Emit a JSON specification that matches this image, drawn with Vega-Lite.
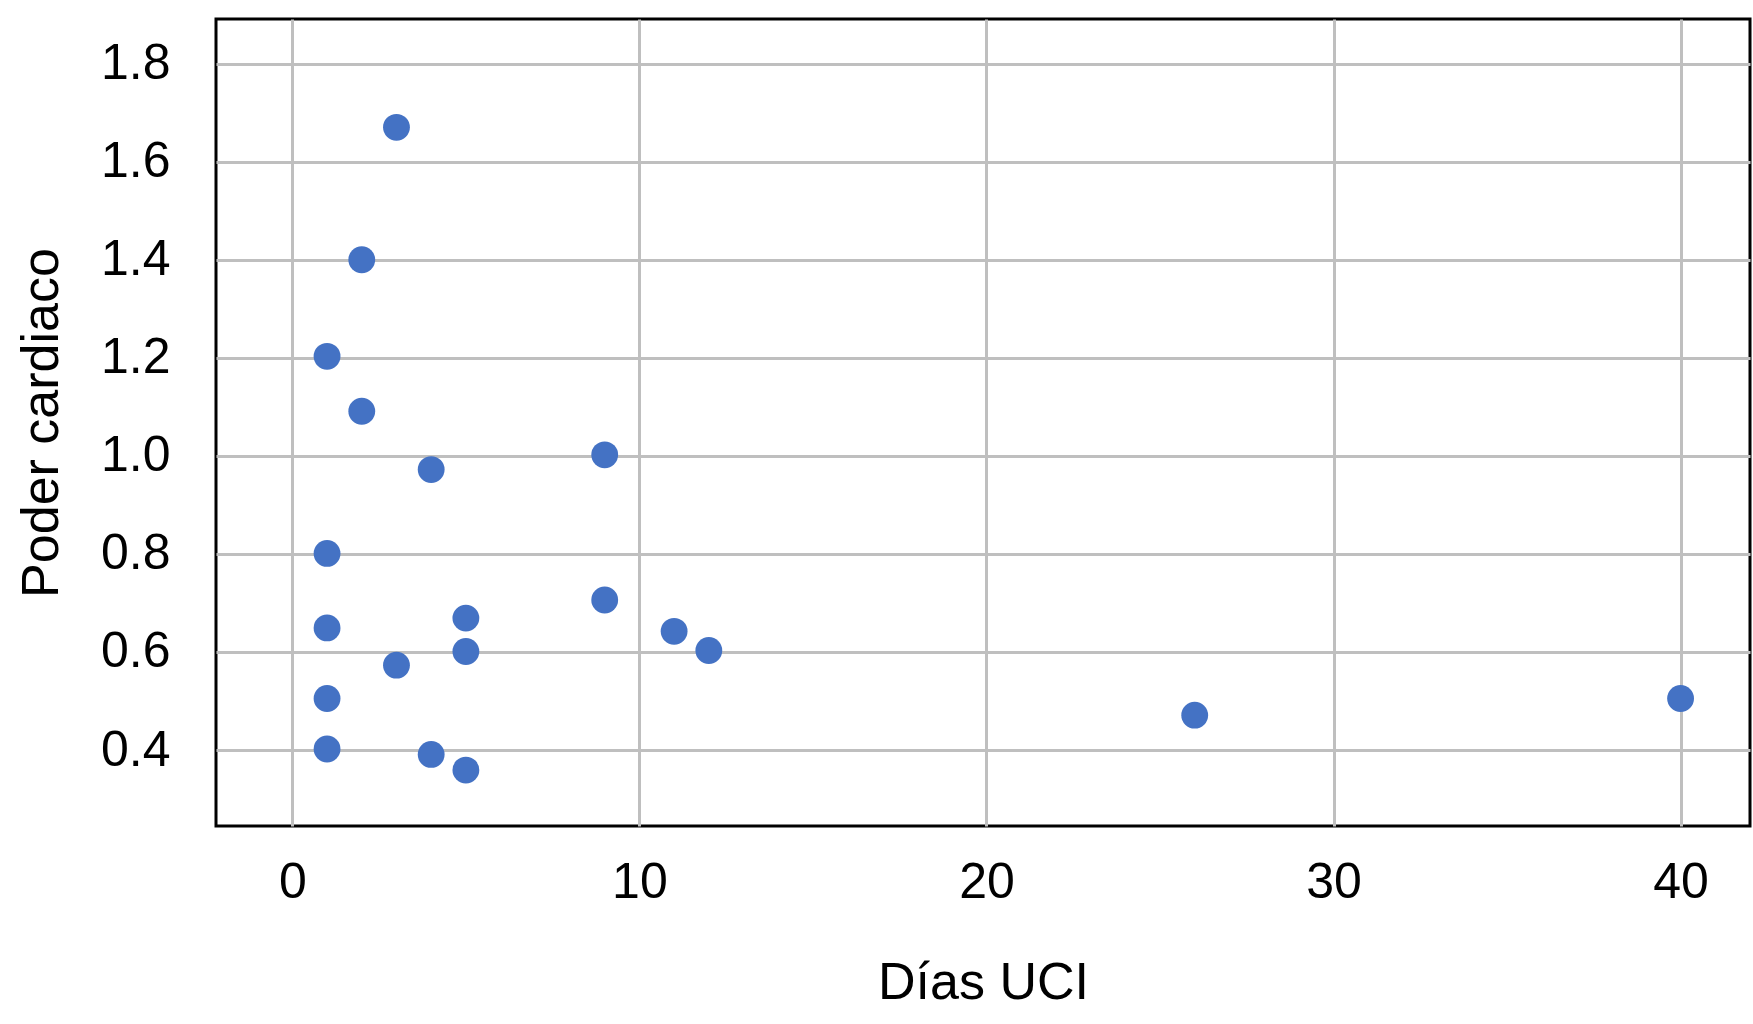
{
  "$schema": "https://vega.github.io/schema/vega-lite/v6.json",
  "width": 1534,
  "height": 807,
  "autosize": {"type": "none"},
  "padding": {"left": 216, "top": 19, "right": 3, "bottom": 198},
  "background": "white",
  "config": {
    "view": {"stroke": "black", "strokeWidth": 3},
    "font": "Liberation Sans"
  },
  "data": {
    "values": [
      {"dias": 3, "poder": 1.67},
      {"dias": 2, "poder": 1.40},
      {"dias": 1, "poder": 1.203},
      {"dias": 2, "poder": 1.091},
      {"dias": 4, "poder": 0.972},
      {"dias": 9, "poder": 1.002},
      {"dias": 1, "poder": 0.801},
      {"dias": 1, "poder": 0.649},
      {"dias": 5, "poder": 0.669},
      {"dias": 9, "poder": 0.706},
      {"dias": 5, "poder": 0.601},
      {"dias": 3, "poder": 0.573},
      {"dias": 11, "poder": 0.642},
      {"dias": 12, "poder": 0.603},
      {"dias": 1, "poder": 0.505},
      {"dias": 1, "poder": 0.402},
      {"dias": 4, "poder": 0.391},
      {"dias": 5, "poder": 0.359},
      {"dias": 26, "poder": 0.471},
      {"dias": 40, "poder": 0.505}
    ]
  },
  "mark": {"type": "circle", "size": 720, "color": "#4472C4", "opacity": 1},
  "encoding": {
    "x": {
      "field": "dias",
      "type": "quantitative",
      "title": "Días UCI",
      "scale": {"domain": [-2.2, 42], "nice": false, "zero": false},
      "axis": {
        "values": [0, 10, 20, 30, 40],
        "grid": true,
        "gridColor": "#BFBFBF",
        "gridWidth": 3,
        "gridOpacity": 1,
        "ticks": false,
        "domain": false,
        "labelFontSize": 50,
        "labelColor": "black",
        "labelPadding": 31,
        "titleFontSize": 52,
        "titleFontWeight": "normal",
        "titleColor": "black",
        "titlePadding": 50
      }
    },
    "y": {
      "field": "poder",
      "type": "quantitative",
      "title": "Poder cardiaco",
      "scale": {"domain": [0.245, 1.891], "nice": false, "zero": false},
      "axis": {
        "values": [0.4, 0.6, 0.8, 1.0, 1.2, 1.4, 1.6, 1.8],
        "format": ".1f",
        "grid": true,
        "gridColor": "#BFBFBF",
        "gridWidth": 3,
        "gridOpacity": 1,
        "ticks": false,
        "domain": false,
        "labelFontSize": 50,
        "labelColor": "black",
        "labelPadding": 46,
        "titleFontSize": 52,
        "titleFontWeight": "normal",
        "titleColor": "black",
        "titlePadding": 32
      }
    }
  }
}
